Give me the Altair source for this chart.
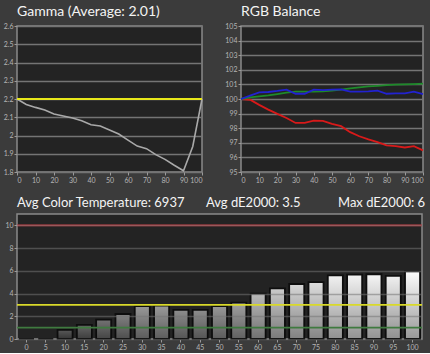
import altair as alt
import pandas as pd

# ---------------- data ----------------
steps = [0, 5, 10, 15, 20, 25, 30, 35, 40, 45, 50, 55, 60, 65, 70, 75, 80, 85, 90, 95, 100]

gamma = [2.20, 2.17, 2.154, 2.14, 2.118, 2.107, 2.096, 2.081, 2.059, 2.052, 2.03,
         2.008, 1.975, 1.942, 1.928, 1.895, 1.869, 1.837, 1.807, 1.94, 2.20]
gamma_target = [2.2]

red = [100.0, 99.95, 99.6, 99.27, 98.98, 98.7, 98.36, 98.36, 98.52, 98.5, 98.3,
       98.14, 97.73, 97.45, 97.23, 97.05, 96.82, 96.77, 96.68, 96.77, 96.48]
green = [100.0, 100.11, 100.18, 100.25, 100.34, 100.43, 100.5, 100.5, 100.5, 100.52, 100.57,
         100.64, 100.73, 100.8, 100.86, 100.9, 100.95, 100.98, 101.0, 101.02, 101.05]
blue = [100.0, 100.23, 100.45, 100.48, 100.55, 100.64, 100.36, 100.36, 100.64, 100.61, 100.64,
        100.66, 100.5, 100.5, 100.52, 100.57, 100.36, 100.39, 100.39, 100.5, 100.34]

de2000 = [0.0, 0.0, 0.8, 1.25, 1.7, 2.2, 2.9, 2.95, 2.56, 2.56, 2.9,
          3.2, 4.0, 4.45, 4.84, 5.0, 5.6, 5.66, 5.7, 5.55, 5.95]
de_refs = [1, 3, 10]
de_ref_colors = ["#3f7a3f", "#d9d92a", "#c8333a"]

gamma_title = "Gamma (Average: 2.01)"
rgb_title = "RGB Balance"
bottom_titles = ["Avg Color Temperature: 6937", "Avg dE2000: 3.5", "Max dE2000: 6"]

FONT = "Lato"
TITLE_COLOR = "#f4f4f4"

# ---------------- tables ----------------
df_gamma = pd.DataFrame({"x": steps, "gamma": gamma})
df_gt = pd.DataFrame({"gamma": gamma_target})
df_rgb = pd.concat([
    pd.DataFrame({"x": steps, "v": red, "c": "R"}),
    pd.DataFrame({"x": steps, "v": green, "c": "G"}),
    pd.DataFrame({"x": steps, "v": blue, "c": "B"}),
])
df_de = pd.DataFrame({"step": [str(s) for s in steps], "de": de2000})
df_refs = pd.DataFrame({"de": de_refs, "col": de_ref_colors})
df_titles = pd.DataFrame({"t": bottom_titles, "px": [0, 189, 321]})

x10 = list(range(0, 101, 10))
title_kw = dict(anchor="start", font=FONT, fontSize=14, fontWeight="normal",
                color=TITLE_COLOR, offset=3, frame="group")

# ---------------- gamma ----------------
gx = alt.X("x:Q", scale=alt.Scale(domain=[0, 100], nice=False),
           axis=alt.Axis(values=x10, title=None, grid=False, labelOverlap=False))
gy = alt.Y("gamma:Q", scale=alt.Scale(domain=[1.8, 2.6], nice=False, zero=False),
           axis=alt.Axis(values=[1.8, 1.9, 2.0, 2.1, 2.2, 2.3, 2.4, 2.5, 2.6],
                         format="~g", title=None, labelOverlap=False, grid=True))
g_line = alt.Chart(df_gamma).mark_line(color="#a9a9a9", strokeWidth=1.6).encode(x=gx, y=gy)
g_rule = alt.Chart(df_gt).mark_rule(color="#e8e81a", strokeWidth=2.2).encode(y=gy)
gamma_chart = alt.layer(g_line, g_rule).properties(
    width=185, height=146, title=alt.TitleParams(gamma_title, **title_kw))

# ---------------- rgb ----------------
rgb_chart = alt.Chart(df_rgb).mark_line(strokeWidth=1.8).encode(
    x=alt.X("x:Q", scale=alt.Scale(domain=[0, 100], nice=False),
            axis=alt.Axis(values=x10, title=None, grid=False, labelOverlap=False)),
    y=alt.Y("v:Q", scale=alt.Scale(domain=[95, 105], nice=False, zero=False),
            axis=alt.Axis(values=list(range(95, 106)), title=None, labelOverlap=False)),
    color=alt.Color("c:N", scale=alt.Scale(domain=["G", "B", "R"],
                                           range=["#1e8a2a", "#2222d0", "#d81a1a"]),
                    legend=None),
    order=alt.Order("c:N"),
).properties(width=182, height=146, title=alt.TitleParams(rgb_title, **title_kw))

# ---------------- dE bars ----------------
bx = alt.X("step:O", sort=[str(s) for s in steps],
           scale=alt.Scale(paddingInner=0.22, paddingOuter=0.1),
           axis=alt.Axis(title=None, labelAngle=0, grid=False, labelOverlap=False))
by = alt.Y("de:Q", scale=alt.Scale(domain=[0, 11], nice=False),
           axis=alt.Axis(values=[0, 2, 4, 6, 8, 10], title=None, labelOverlap=False,
                         zindex=1, gridOpacity=0.55))
bars = alt.Chart(df_de).mark_bar(stroke="#0e0e0e", strokeWidth=1.8).encode(
    x=bx, y=by,
    color=alt.Color("de:Q", scale=alt.Scale(domain=[0.5, 6], range=["#505050", "#ffffff"]),
                    legend=None),
)
shade = alt.Chart(df_de).mark_bar(
    color=alt.Gradient(gradient="linear", x1=0, x2=0, y1=0, y2=1,
                       stops=[alt.GradientStop(color="rgba(0,0,0,0)", offset=0),
                              alt.GradientStop(color="rgba(0,0,0,0.4)", offset=1)])
).encode(x=bx, y=by)
refs = alt.Chart(df_refs).mark_rule(strokeWidth=1.6).encode(
    y=by, color=alt.Color("col:N", scale=None))
titles = alt.Chart(df_titles).mark_text(
    font=FONT, fontSize=13, color=TITLE_COLOR, align="left", baseline="alphabetic"
).encode(x=alt.X("px:Q", scale=None), y=alt.value(-7), text="t:N")
bottom_chart = alt.layer(bars, shade, refs, titles).properties(width=405, height=125)

chart = alt.vconcat(
    alt.hconcat(gamma_chart, rgb_chart, spacing=18),
    bottom_chart,
    spacing=12,
).properties(
    background="#3b3b3b",
    padding={"left": 2, "top": 4, "right": 2, "bottom": 2},
).configure_view(
    fill="#232323", stroke="#8a8a8a", strokeWidth=1.5
).configure_axis(
    labelColor="#b5b5b5", labelFont=FONT, labelFontSize=7, tickColor="#9a9a9a",
    tickSize=3, domain=False, gridColor="#747474", gridWidth=1.6, labelPadding=1
)

chart.save("out.html", embed_options={"renderer": "svg", "actions": False})
